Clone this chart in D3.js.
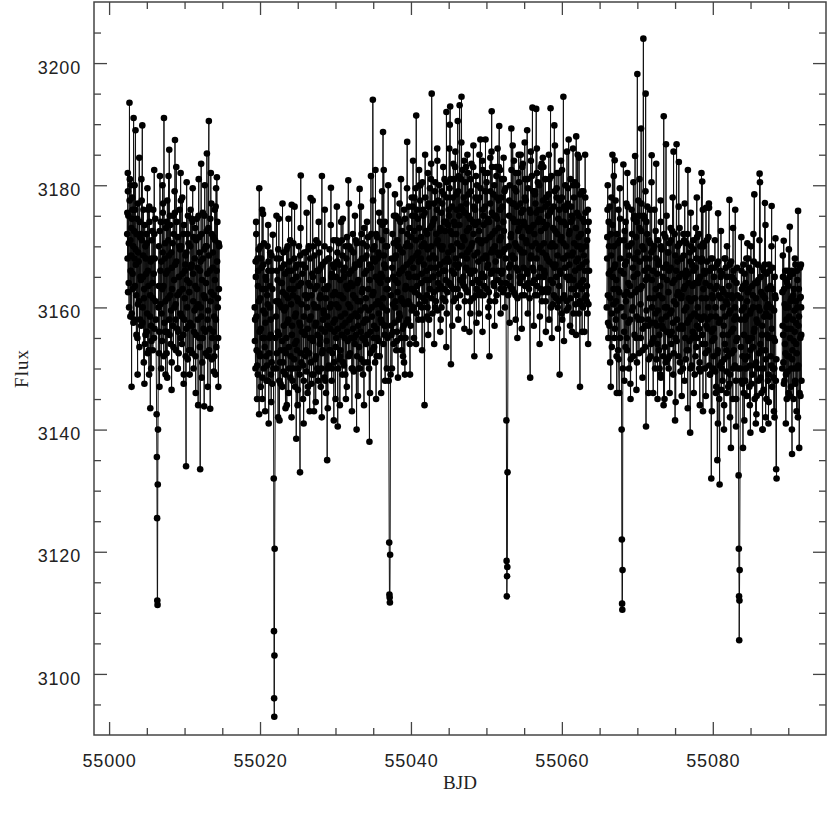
<!DOCTYPE html>
<html>
<head>
<meta charset="utf-8">
<script src="https://cdn.jsdelivr.net/npm/d3@7"></script>
<style>
  html, body { margin: 0; padding: 0; background: #fff; }
  svg { display: block; }
</style>
</head>
<body>
<div id="chart"></div>
<script>
// ---------------- DATA ----------------
const xTickValues = [55000, 55020, 55040, 55060, 55080];
const xTickLabels = ["55000", "55020", "55040", "55060", "55080"];
const yTickValues = [3100, 3120, 3140, 3160, 3180, 3200];
const yTickLabels = ["3100", "3120", "3140", "3160", "3180", "3200"];
const xLabel = "BJD";
const yLabel = "Flux";

// Times below are stored as BJD - 55000 (days); pairs are [time, flux].
const bjdOffset = 55000;

// Visible individual points: spikes, transit dips, band edges
const segment1 = [
  [2.4,3172],[2.5,3179],[2.6,3164],[2.7,3193.5],[2.8,3171],[2.9,3180],
  [3.0,3159],[3.1,3176],[3.25,3191],[3.35,3168],[3.5,3189],[3.6,3162],
  [3.8,3177],[4.0,3184.5],[4.1,3158],[4.2,3172],[4.4,3189.8],[4.5,3165],
  [4.6,3151],[4.8,3170],[5.0,3156],[5.2,3176],[5.3,3149],[5.46,3143.5],
  [5.6,3168],[5.8,3153],[6.0,3172],[6.2,3158],[6.3,3142.5],[6.33,3135.5],
  [6.36,3125.5],[6.39,3112],[6.42,3111.3],[6.45,3131],[6.48,3140],[6.55,3160],
  [6.74,3181.5],[6.9,3150],[7.1,3169],[7.27,3191],[7.4,3156],[7.6,3174],
  [7.7,3148.5],[7.97,3185.8],[8.1,3162],[8.3,3151],[8.5,3175],[8.73,3187.4],
  [8.8,3158],[8.9,3183],[9.1,3150],[9.3,3170],[9.5,3155],[9.7,3178],
  [9.9,3149],[10.1,3167],[10.2,3134],[10.4,3172],[10.6,3153],[10.8,3176],
  [11.0,3157],[11.2,3150],[11.4,3173],[11.6,3160],[11.8,3144],[12.0,3169],
  [12.07,3133.5],[12.2,3183.5],[12.4,3155],[12.6,3143.8],[12.8,3170],[12.96,3185.2],
  [13.1,3152],[13.22,3190.5],[13.4,3143.4],[13.6,3172],[13.8,3156],[14.0,3176],
  [14.1,3149],[14.28,3181.3],[14.4,3160],[14.6,3170]
];
// Dense core of the band (the solid black region)
const segment1Core = [
  [2.45,3168],[2.55,3175],[2.65,3160],[2.75,3181],[2.85,3166],[2.95,3173],[3.05,3178],[3.15,3163],
  [3.2,3170],[3.3,3158],[3.45,3176],[3.55,3167],[3.65,3172],[3.75,3155],[3.85,3169],[3.95,3161],
  [4.05,3174],[4.15,3165],[4.25,3157],[4.35,3171],[4.45,3160],[4.55,3176],[4.65,3163],[4.75,3154],
  [4.85,3168],[4.95,3172],[5.05,3159],[5.15,3166],[5.25,3153],[5.35,3174],[5.45,3162],[5.55,3157],
  [5.65,3171],[5.75,3164],[5.85,3176],[5.95,3155],[6.05,3168],[6.15,3161],[6.6,3170],[6.65,3156],
  [6.8,3166],[6.85,3174],[6.95,3159],[7.05,3163],[7.15,3177],[7.25,3152],[7.35,3168],[7.45,3161],
  [7.55,3173],[7.65,3156],[7.75,3166],[7.85,3171],[7.95,3158],[8.05,3175],[8.15,3154],[8.25,3169],
  [8.35,3163],[8.45,3157],[8.55,3172],[8.65,3160],[8.75,3167],[8.85,3153],[8.95,3174],[9.05,3162],
  [9.15,3156],[9.25,3165],[9.35,3176],[9.45,3159],[9.55,3170],[9.65,3154],[9.75,3163],[9.85,3172],
  [9.95,3158],[10.05,3166],[10.15,3152],[10.25,3169],[10.35,3160],[10.45,3175],[10.55,3157],[10.65,3164],
  [10.75,3170],[10.85,3153],[10.95,3167],[11.05,3174],[11.15,3161],[11.25,3156],[11.35,3168],[11.45,3152],
  [11.55,3171],[11.65,3163],[11.75,3158],[11.85,3175],[11.95,3155],[12.05,3166],[12.15,3160],[12.25,3172],
  [12.35,3151],[12.45,3168],[12.55,3162],[12.65,3175],[12.75,3156],[12.85,3164],[12.95,3170],[13.05,3158],
  [13.15,3173],[13.25,3153],[13.35,3166],[13.45,3161],[13.55,3177],[13.65,3155],[13.75,3169],[13.85,3162],
  [13.95,3152],[14.05,3171],[14.15,3158],[14.25,3166],[14.35,3174],[14.45,3155],[14.55,3163]
];
const segment1Dense = [
  [2.42,3175.5],[2.52,3162.5],[2.62,3170.5],[2.72,3177.5],[2.82,3158.5],[2.92,3168.5],[3.02,3174.5],[3.12,3165.5],
  [3.22,3157.5],[3.32,3172.5],[3.42,3163.5],[3.52,3169.5],[3.62,3155.5],[3.72,3174.5],[3.82,3160.5],[3.92,3167.5],
  [4.02,3153.5],[4.12,3171.5],[4.22,3164.5],[4.32,3177.5],[4.42,3157.5],[4.52,3168.5],[4.62,3161.5],[4.72,3173.5],
  [4.82,3155.5],[4.92,3165.5],[5.02,3170.5],[5.12,3152.5],[5.22,3163.5],[5.32,3176.5],[5.42,3158.5],[5.52,3167.5],
  [5.62,3154.5],[5.72,3172.5],[5.82,3161.5],[5.92,3165.5],[6.02,3156.5],[6.12,3174.5],[6.58,3163.5],[6.62,3152.5],
  [6.72,3172.5],[6.82,3160.5],[6.92,3167.5],[7.02,3154.5],[7.12,3175.5],[7.22,3163.5],[7.32,3157.5],[7.42,3170.5],
  [7.52,3165.5],[7.62,3152.5],[7.72,3177.5],[7.82,3161.5],[7.92,3168.5],[8.02,3155.5],[8.12,3173.5],[8.22,3159.5],
  [8.32,3166.5],[8.42,3170.5],[8.52,3153.5],[8.62,3164.5],[8.72,3175.5],[8.82,3160.5],[8.92,3167.5],[9.02,3156.5],
  [9.12,3171.5],[9.22,3152.5],[9.32,3162.5],[9.42,3169.5],[9.52,3177.5],[9.62,3158.5],[9.72,3165.5],[9.82,3155.5],
  [9.92,3173.5],[10.02,3161.5],[10.12,3168.5],[10.22,3156.5],[10.32,3164.5],[10.42,3151.5],[10.52,3170.5],[10.62,3162.5],
  [10.72,3157.5],[10.82,3166.5],[10.92,3174.5],[11.02,3152.5],[11.12,3165.5],[11.22,3171.5],[11.32,3159.5],[11.42,3163.5],
  [11.52,3155.5],[11.62,3174.5],[11.72,3166.5],[11.82,3160.5],[11.92,3171.5],[12.02,3153.5],[12.12,3167.5],[12.22,3158.5],
  [12.32,3164.5],[12.42,3175.5],[12.52,3156.5],[12.62,3169.5],[12.72,3161.5],[12.82,3152.5],[12.92,3172.5],[13.02,3165.5],
  [13.12,3159.5],[13.22,3168.5],[13.32,3156.5],[13.42,3174.5],[13.52,3162.5],[13.62,3151.5],[13.72,3166.5],[13.82,3171.5],
  [13.92,3158.5],[14.02,3164.5],[14.12,3176.5],[14.22,3153.5],[14.32,3167.5],[14.42,3161.5],[14.52,3170.5]
];
// Ragged fringe just outside the core band
const segment1Fringe = [
  [2.48,3182],[2.98,3147],[3.38,3180],[3.78,3149],[4.28,3181],[4.68,3147.5],[5.08,3179.5],[5.58,3150],
  [5.98,3182.5],[6.68,3147],[7.08,3180],[7.48,3149],[7.88,3181.5],[8.28,3146.5],[8.68,3179],[9.08,3150],
  [9.48,3182],[9.88,3147.5],[10.28,3180.5],[10.68,3149],[11.08,3179.5],[11.48,3146],[11.88,3181],[12.28,3148.5],
  [12.68,3180],[13.08,3147],[13.48,3182],[13.88,3149.5],[14.18,3179.5],[14.48,3147]
];

const segment2 = [
  [19.3,3160],[19.4,3150],[19.5,3172],[19.6,3145],[19.75,3166],[19.9,3179.5],
  [20.0,3152],[20.15,3168],[20.3,3145],[20.4,3175.3],[20.55,3155],[20.7,3163],
  [20.85,3148],[21.0,3170],[21.15,3141],[21.3,3160],[21.45,3149],[21.6,3166],
  [21.7,3171.9],[21.78,3150],[21.82,3132],[21.85,3107],[21.87,3096],[21.89,3093],
  [21.91,3103],[21.94,3120.5],[22.05,3155],[22.2,3168],[22.4,3142],[22.5,3174.5],
  [22.65,3151],[22.8,3164],[22.95,3147],[23.1,3169],[23.25,3153],[23.4,3160],
  [23.55,3144],[23.7,3166],[23.85,3150],[24.0,3171],[24.2,3176.8],[24.3,3148],
  [24.45,3163],[24.6,3154],[24.8,3138.5],[24.95,3167],[25.1,3150],[25.3,3133],
  [25.4,3181.6],[25.55,3156],[25.7,3145],[25.85,3169],[26.0,3152],[26.15,3162],
  [26.3,3146],[26.45,3170],[26.6,3155],[26.7,3177.9],[26.85,3149],[27.0,3165],
  [27.15,3143],[27.3,3160],[27.45,3171],[27.6,3150],[27.75,3166],[27.9,3154],
  [28.05,3147],[28.2,3181.5],[28.35,3158],[28.5,3163],[28.65,3148],[28.9,3135],
  [29.05,3168],[29.2,3153],[29.4,3179.6],[29.55,3150],[29.7,3167],[29.85,3156],
  [30.0,3145],[30.15,3171],[30.3,3140.5],[30.45,3162],[30.6,3152],[30.75,3174],
  [30.9,3149],[31.05,3166],[31.2,3155],[31.35,3170],[31.5,3147],[31.7,3180.8],
  [31.85,3158],[32.0,3164],[32.15,3150],[32.3,3172],[32.45,3155],[32.6,3167],
  [32.8,3140],[32.95,3161],[33.05,3150],[33.2,3179.4],[33.35,3156],[33.5,3168],
  [33.65,3149],[33.8,3173],[33.95,3158],[34.1,3166],[34.25,3151],[34.5,3138],
  [34.7,3181.5],[34.8,3160],[34.95,3194],[35.05,3155],[35.15,3170],[35.3,3182.5],
  [35.45,3152],[35.6,3168],[35.75,3159],[35.9,3174],[36.05,3146],[36.2,3165],
  [36.3,3188.7],[36.4,3182.5],[36.5,3157],[36.65,3170],[36.8,3150],[36.95,3163],
  [37.05,3148],[37.12,3121.5],[37.15,3113],[37.18,3112.5],[37.21,3111.7],[37.24,3119.5],
  [37.3,3149],[37.45,3168],[37.6,3156],[37.75,3175],[37.9,3160],[38.05,3153],
  [38.2,3171],[38.35,3158],[38.5,3177],[38.65,3155],[38.8,3166],[38.95,3152],
  [39.2,3149],[39.35,3170],[39.5,3187.1],[39.65,3161],[39.8,3173],[39.95,3157],
  [40.1,3178],[40.25,3163],[40.4,3155],[40.55,3175],[40.7,3191.4],[40.85,3165],
  [41.0,3158],[41.15,3180],[41.3,3168],[41.45,3160],[41.6,3176],[41.8,3144],
  [41.95,3170],[42.1,3162],[42.25,3182],[42.4,3158],[42.55,3173],[42.75,3195],
  [42.9,3165],[43.05,3177],[43.2,3160],[43.35,3172],[43.5,3184],[43.65,3163],
  [43.8,3170],[43.95,3158],[44.1,3179],[44.25,3166],[44.4,3174],[44.55,3161],
  [44.7,3192],[44.85,3168],[45.0,3176],[45.15,3189.9],[45.2,3192.9],[45.3,3150.7],
  [45.45,3172],[45.6,3163],[45.75,3181],[45.9,3167],[46.05,3176],[46.2,3190.5],
  [46.3,3160],[46.45,3193.1],[46.55,3170],[46.7,3194.5],[46.85,3164],[47.0,3178],
  [47.15,3161],[47.3,3183],[47.45,3169],[47.6,3175],[47.75,3156],[47.9,3181],
  [48.05,3166],[48.2,3174],[48.4,3152],[48.55,3178],[48.7,3163],[48.85,3171],
  [49.0,3159],[49.2,3187.5],[49.35,3165],[49.5,3176],[49.65,3162],[49.8,3182],
  [49.95,3168],[50.1,3174],[50.25,3160],[50.4,3152],[50.55,3179],[50.7,3192.1],
  [50.85,3166],[51.0,3175],[51.15,3161],[51.3,3183],[51.45,3169],[51.6,3173],
  [51.7,3189.7],[51.85,3163],[52.0,3178],[52.15,3166],[52.3,3181],[52.45,3160],
  [52.6,3164],[52.65,3141.5],[52.68,3118.5],[52.71,3112.7],[52.74,3116],[52.77,3117.5],
  [52.8,3133],[52.88,3162],[53.0,3175],[53.15,3167],[53.3,3189.3],[53.45,3163],
  [53.6,3177],[53.75,3168],[53.9,3182],[54.1,3155],[54.25,3174],[54.4,3165],
  [54.55,3185],[54.7,3162],[54.85,3176],[55.0,3169],[55.15,3181],[55.4,3189],
  [55.55,3164],[55.8,3148.5],[55.95,3173],[56.1,3192.7],[56.25,3166],[56.4,3179],
  [56.6,3192.5],[56.75,3162],[56.9,3176],[57.05,3154],[57.2,3183],[57.35,3161],
  [57.5,3174],[57.65,3166],[57.8,3181],[57.95,3163],[58.1,3177],[58.3,3158],
  [58.5,3192.6],[58.65,3170],[58.8,3164],[59.0,3189.8],[59.15,3167],[59.3,3178],
  [59.45,3160],[59.6,3182],[59.7,3149],[59.9,3174],[60.05,3158],[60.2,3194.5],
  [60.35,3168],[60.5,3176],[60.65,3161],[60.9,3187.5],[61.05,3165],[61.2,3174],
  [61.35,3156],[61.5,3180],[61.65,3163],[61.9,3188],[62.05,3170],[62.1,3185],
  [62.25,3159],[62.4,3147],[62.55,3172],[62.7,3163],[62.85,3179],[63.0,3156],
  [63.15,3170],[63.3,3161],[63.45,3176],[63.6,3166]
];
const segment2Core = [
  [19.35,3158],[19.45,3165],[19.55,3153],[19.65,3168],[19.7,3149],[19.85,3161],[19.95,3156],[20.05,3170],
  [20.1,3147],[20.25,3163],[20.35,3155],[20.45,3167],[20.5,3150],[20.65,3159],[20.75,3165],[20.8,3152],
  [20.95,3162],[21.05,3148],[21.1,3166],[21.25,3155],[21.35,3169],[21.4,3158],[21.55,3151],[21.65,3163],
  [22.1,3161],[22.15,3150],[22.25,3166],[22.35,3156],[22.45,3161],[22.55,3148],[22.6,3168],[22.75,3153],
  [22.85,3160],[22.9,3164],[23.05,3151],[23.15,3157],[23.2,3167],[23.35,3149],[23.45,3162],[23.5,3155],
  [23.65,3170],[23.75,3158],[23.8,3146],[23.95,3163],[24.05,3152],[24.15,3166],[24.25,3157],[24.35,3162],
  [24.4,3150],[24.55,3168],[24.65,3147],[24.75,3159],[24.85,3165],[24.9,3153],[25.05,3161],[25.15,3170],
  [25.25,3149],[25.35,3157],[25.45,3164],[25.5,3151],[25.65,3167],[25.75,3156],[25.8,3148],[25.95,3162],
  [26.05,3169],[26.1,3153],[26.25,3160],[26.35,3147],[26.4,3164],[26.55,3158],[26.65,3168],[26.75,3151],
  [26.8,3162],[26.95,3155],[27.05,3170],[27.1,3149],[27.25,3163],[27.35,3157],[27.4,3152],[27.55,3166],
  [27.65,3160],[27.7,3148],[27.85,3169],[27.95,3155],[28.0,3162],[28.15,3150],[28.25,3167],[28.3,3153],
  [28.45,3159],[28.55,3170],[28.6,3156],[28.75,3146],[28.85,3163],[28.95,3157],[29.0,3150],[29.15,3168],
  [29.25,3160],[29.3,3153],[29.45,3165],[29.5,3148],[29.65,3162],[29.75,3171],[29.8,3151],[29.95,3158],
  [30.05,3165],[30.1,3155],[30.25,3169],[30.35,3150],[30.4,3160],[30.55,3167],[30.65,3153],[30.7,3162],
  [30.85,3171],[30.95,3157],[31.0,3151],[31.15,3165],[31.25,3159],[31.3,3149],[31.45,3168],[31.55,3156],
  [31.6,3163],[31.75,3152],[31.8,3170],[31.95,3160],[32.05,3155],[32.1,3166],[32.25,3150],[32.35,3162],
  [32.4,3169],[32.55,3154],[32.65,3159],[32.7,3171],[32.85,3152],[32.9,3164],[33.0,3157],[33.15,3167],
  [33.25,3150],[33.3,3161],[33.45,3172],[33.55,3155],[33.6,3163],[33.75,3151],[33.85,3168],[33.9,3160],
  [34.05,3154],[34.15,3170],[34.2,3158],[34.35,3163],[34.45,3150],[34.55,3167],[34.65,3156],[34.75,3172],
  [34.85,3153],[34.9,3162],[35.0,3168],[35.1,3157],[35.25,3151],[35.35,3165],[35.4,3172],[35.55,3155],
  [35.65,3161],[35.7,3169],[35.85,3152],[35.95,3164],[36.0,3158],[36.15,3171],[36.25,3160],[36.35,3154],
  [36.45,3167],[36.55,3174],[36.6,3157],[36.75,3163],[36.85,3170],[36.9,3155],[37.35,3162],[37.4,3157],
  [37.55,3172],[37.65,3165],[37.7,3154],[37.85,3168],[37.95,3161],[38.0,3175],[38.15,3156],[38.25,3164],
  [38.3,3170],[38.45,3159],[38.55,3166],[38.6,3174],[38.75,3153],[38.85,3161],[38.9,3169],[39.05,3157],
  [39.1,3176],[39.25,3163],[39.3,3155],[39.45,3167],[39.55,3172],[39.6,3158],[39.75,3165],[39.85,3154],
  [39.9,3170],[40.05,3163],[40.15,3175],[40.2,3168],[40.35,3160],[40.45,3178],[40.5,3165],[40.65,3171],
  [40.75,3159],[40.8,3176],[40.95,3169],[41.05,3162],[41.1,3173],[41.25,3180],[41.35,3164],[41.4,3170],
  [41.55,3158],[41.65,3175],[41.7,3167],[41.85,3161],[41.9,3178],[42.05,3166],[42.15,3172],[42.2,3160],
  [42.35,3177],[42.45,3168],[42.5,3163],[42.65,3181],[42.7,3170],[42.85,3159],[42.95,3174],[43.0,3165],
  [43.15,3179],[43.25,3168],[43.3,3161],[43.45,3176],[43.55,3171],[43.6,3164],[43.75,3180],[43.85,3167],
  [43.9,3173],[44.05,3160],[44.15,3177],[44.2,3170],[44.35,3163],[44.45,3181],[44.5,3166],[44.65,3174],
  [44.75,3159],[44.8,3178],[44.95,3169],[45.05,3175],[45.1,3164],[45.25,3181],[45.35,3170],[45.4,3166],
  [45.55,3178],[45.65,3161],[45.7,3174],[45.85,3183],[45.95,3168],[46.0,3172],[46.15,3163],[46.25,3179],
  [46.35,3167],[46.4,3175],[46.5,3162],[46.65,3181],[46.75,3170],[46.8,3176],[46.95,3165],[47.05,3184],
  [47.1,3171],[47.25,3163],[47.35,3177],[47.4,3168],[47.55,3182],[47.65,3166],[47.7,3173],[47.85,3161],
  [47.95,3179],[48.0,3170],[48.15,3164],[48.25,3183],[48.3,3172],[48.45,3166],[48.5,3176],[48.65,3162],
  [48.75,3180],[48.8,3169],[48.95,3174],[49.05,3164],[49.1,3178],[49.25,3171],[49.3,3162],[49.45,3184],
  [49.55,3168],[49.6,3175],[49.75,3165],[49.85,3179],[49.9,3171],[50.05,3163],[50.15,3182],[50.2,3167],
  [50.35,3174],[50.45,3161],[50.5,3177],[50.65,3169],[50.75,3183],[50.8,3172],[50.95,3164],[51.05,3180],
  [51.1,3170],[51.25,3175],[51.35,3162],[51.4,3178],[51.55,3166],[51.65,3183],[51.75,3171],[51.8,3176],
  [51.95,3164],[52.05,3181],[52.1,3169],[52.25,3174],[52.35,3163],[52.4,3179],[52.55,3168],[52.95,3170],
  [53.05,3165],[53.1,3180],[53.25,3172],[53.35,3163],[53.4,3177],[53.55,3168],[53.65,3184],[53.7,3174],
  [53.85,3162],[53.95,3179],[54.0,3170],[54.15,3166],[54.2,3182],[54.35,3173],[54.45,3164],[54.5,3177],
  [54.65,3169],[54.75,3183],[54.8,3165],[54.95,3174],[55.05,3162],[55.1,3178],[55.25,3171],[55.35,3166],
  [55.45,3181],[55.5,3173],[55.65,3163],[55.7,3176],[55.85,3168],[55.9,3184],[56.05,3170],[56.15,3164],
  [56.2,3179],[56.35,3172],[56.45,3162],[56.5,3177],[56.65,3168],[56.7,3182],[56.85,3174],[56.95,3165],
  [57.0,3180],[57.15,3170],[57.25,3163],[57.3,3176],[57.45,3169],[57.55,3183],[57.6,3165],[57.75,3173],
  [57.85,3161],[57.9,3178],[58.05,3168],[58.15,3175],[58.2,3163],[58.35,3181],[58.45,3170],[58.55,3160],
  [58.6,3176],[58.75,3167],[58.85,3173],[58.95,3162],[59.05,3179],[59.1,3170],[59.25,3165],[59.35,3182],
  [59.4,3172],[59.55,3161],[59.65,3176],[59.75,3166],[59.85,3171],[59.95,3159],[60.0,3178],[60.15,3168],
  [60.25,3174],[60.3,3162],[60.45,3180],[60.55,3170],[60.6,3165],[60.75,3177],[60.85,3160],[60.95,3172],
  [61.0,3167],[61.15,3181],[61.25,3163],[61.3,3175],[61.45,3169],[61.55,3159],[61.6,3178],[61.75,3166],
  [61.85,3173],[61.95,3162],[62.0,3180],[62.15,3168],[62.2,3175],[62.35,3161],[62.45,3170],[62.5,3164],
  [62.65,3179],[62.75,3167],[62.8,3160],[62.95,3174],[63.05,3166],[63.1,3178],[63.25,3162],[63.35,3171],
  [63.4,3159],[63.55,3174]
];
const segment2Dense = [
  [19.32,3154.5],[19.42,3167.5],[19.52,3158.5],[19.62,3150.5],[19.72,3163.5],[19.82,3169.5],[19.92,3152.5],[20.02,3161.5],
  [20.12,3156.5],[20.22,3166.5],[20.32,3148.5],[20.42,3159.5],[20.52,3170.5],[20.62,3153.5],[20.72,3157.5],[20.82,3164.5],
  [20.92,3150.5],[21.02,3160.5],[21.12,3167.5],[21.22,3152.5],[21.32,3163.5],[21.42,3155.5],[21.52,3168.5],[21.62,3147.5],
  [22.12,3158.5],[22.22,3152.5],[22.32,3164.5],[22.42,3169.5],[22.52,3155.5],[22.62,3160.5],[22.72,3147.5],[22.82,3166.5],
  [22.92,3154.5],[23.02,3162.5],[23.12,3149.5],[23.22,3159.5],[23.32,3165.5],[23.42,3152.5],[23.52,3169.5],[23.62,3157.5],
  [23.72,3161.5],[23.82,3153.5],[23.92,3167.5],[24.02,3148.5],[24.12,3160.5],[24.22,3155.5],[24.32,3164.5],[24.42,3170.5],
  [24.52,3151.5],[24.62,3158.5],[24.72,3166.5],[24.82,3154.5],[24.92,3161.5],[25.02,3146.5],[25.12,3163.5],[25.22,3157.5],
  [25.32,3168.5],[25.42,3152.5],[25.52,3160.5],[25.62,3165.5],[25.72,3150.5],[25.82,3158.5],[25.92,3155.5],[26.02,3166.5],
  [26.12,3149.5],[26.22,3161.5],[26.32,3156.5],[26.42,3169.5],[26.52,3152.5],[26.62,3163.5],[26.72,3158.5],[26.82,3147.5],
  [26.92,3165.5],[27.02,3154.5],[27.12,3160.5],[27.22,3168.5],[27.32,3151.5],[27.42,3157.5],[27.52,3163.5],[27.62,3155.5],
  [27.72,3170.5],[27.82,3149.5],[27.92,3161.5],[28.02,3166.5],[28.12,3156.5],[28.22,3152.5],[28.32,3164.5],[28.42,3159.5],
  [28.52,3148.5],[28.62,3167.5],[28.72,3161.5],[28.82,3154.5],[28.92,3158.5],[29.02,3163.5],[29.12,3150.5],[29.22,3169.5],
  [29.32,3156.5],[29.42,3160.5],[29.52,3165.5],[29.62,3152.5],[29.72,3157.5],[29.82,3166.5],[29.92,3162.5],
  [30.02,3153.5],[30.12,3160.5],[30.22,3167.5],[30.32,3156.5],[30.42,3170.5],[30.52,3151.5],[30.62,3164.5],[30.72,3158.5],
  [30.82,3155.5],[30.92,3168.5],[31.02,3161.5],[31.12,3150.5],[31.22,3166.5],[31.32,3157.5],[31.42,3163.5],[31.52,3171.5],
  [31.62,3154.5],[31.72,3160.5],[31.82,3165.5],[31.92,3152.5],[32.02,3169.5],[32.12,3158.5],[32.22,3163.5],[32.32,3156.5],
  [32.42,3149.5],[32.52,3166.5],[32.62,3161.5],[32.72,3155.5],[32.82,3170.5],[32.92,3158.5],[33.02,3164.5],[33.12,3153.5],
  [33.22,3167.5],[33.32,3159.5],[33.42,3151.5],[33.52,3162.5],[33.62,3170.5],[33.72,3157.5],[33.82,3165.5],[33.92,3154.5],
  [34.02,3161.5],[34.12,3168.5],[34.22,3155.5],[34.32,3171.5],[34.42,3159.5],[34.52,3164.5],[34.62,3152.5],[34.72,3166.5],
  [34.82,3158.5],[34.92,3169.5],[35.02,3162.5],[35.12,3153.5],[35.22,3167.5],[35.32,3160.5],[35.42,3156.5],[35.52,3171.5],
  [35.62,3164.5],[35.72,3154.5],[35.82,3168.5],[35.92,3160.5],
  [36.02,3165.5],[36.12,3157.5],[36.22,3173.5],[36.32,3161.5],[36.42,3168.5],[36.52,3155.5],[36.62,3166.5],[36.72,3172.5],
  [36.82,3159.5],[36.92,3164.5],[37.42,3155.5],[37.52,3166.5],[37.62,3160.5],[37.72,3170.5],[37.82,3157.5],[37.92,3164.5],
  [38.02,3168.5],[38.12,3154.5],[38.22,3162.5],[38.32,3174.5],[38.42,3165.5],[38.52,3158.5],[38.62,3169.5],[38.72,3161.5],
  [38.82,3172.5],[38.92,3156.5],[39.02,3166.5],[39.12,3160.5],[39.22,3174.5],[39.32,3163.5],[39.42,3157.5],[39.52,3170.5],
  [39.62,3165.5],[39.72,3176.5],[39.82,3160.5],[39.92,3167.5],
  [40.02,3171.5],[40.12,3159.5],[40.22,3176.5],[40.32,3166.5],[40.42,3172.5],[40.52,3162.5],[40.62,3179.5],[40.72,3168.5],
  [40.82,3163.5],[40.92,3174.5],[41.02,3167.5],[41.12,3160.5],[41.22,3177.5],[41.32,3171.5],[41.42,3165.5],[41.52,3180.5],
  [41.62,3161.5],[41.72,3170.5],[41.82,3175.5],[41.92,3164.5],[42.02,3172.5],[42.12,3158.5],[42.22,3169.5],[42.32,3176.5],
  [42.42,3164.5],[42.52,3179.5],[42.62,3166.5],[42.72,3161.5],[42.82,3173.5],[42.92,3168.5],[43.02,3162.5],[43.12,3174.5],
  [43.22,3180.5],[43.32,3166.5],[43.42,3170.5],[43.52,3159.5],[43.62,3177.5],[43.72,3165.5],[43.82,3172.5],[43.92,3163.5],
  [44.02,3175.5],[44.12,3169.5],[44.22,3161.5],[44.32,3178.5],[44.42,3167.5],[44.52,3172.5],[44.62,3164.5],[44.72,3180.5],
  [44.82,3162.5],[44.92,3173.5],
  [45.02,3167.5],[45.12,3179.5],[45.22,3172.5],[45.32,3163.5],[45.42,3176.5],[45.52,3169.5],[45.62,3183.5],[45.72,3165.5],
  [45.82,3173.5],[45.92,3161.5],[46.02,3178.5],[46.12,3170.5],[46.22,3166.5],[46.32,3181.5],[46.42,3173.5],[46.52,3164.5],
  [46.62,3176.5],[46.72,3168.5],[46.82,3182.5],[46.92,3171.5],[47.02,3163.5],[47.12,3175.5],[47.22,3180.5],[47.32,3166.5],
  [47.42,3172.5],[47.52,3162.5],[47.62,3178.5],[47.72,3169.5],[47.82,3174.5],[47.92,3165.5],[48.02,3183.5],[48.12,3170.5],
  [48.22,3161.5],[48.32,3176.5],[48.42,3168.5],[48.52,3173.5],[48.62,3181.5],[48.72,3164.5],[48.82,3177.5],[48.92,3167.5],
  [49.02,3172.5],[49.12,3162.5],[49.22,3179.5],[49.32,3170.5],[49.42,3165.5],[49.52,3182.5],[49.62,3173.5],[49.72,3163.5],
  [49.82,3176.5],[49.92,3168.5],[50.02,3180.5],[50.12,3166.5],[50.22,3174.5],[50.32,3162.5],[50.42,3171.5],[50.52,3184.5],
  [50.62,3165.5],[50.72,3175.5],[50.82,3169.5],[50.92,3178.5],[51.02,3163.5],[51.12,3172.5],[51.22,3167.5],[51.32,3181.5],
  [51.42,3174.5],[51.52,3164.5],[51.62,3177.5],[51.72,3168.5],[51.82,3182.5],[51.92,3171.5],[52.02,3165.5],[52.12,3176.5],
  [52.22,3162.5],[52.32,3172.5],[52.42,3169.5],[52.52,3179.5],[52.98,3166.5],[53.02,3177.5],[53.12,3163.5],[53.22,3171.5],
  [53.32,3182.5],[53.42,3168.5],[53.52,3174.5],[53.62,3162.5],[53.72,3179.5],[53.82,3170.5],[53.92,3166.5],[54.02,3176.5],
  [54.12,3161.5],[54.22,3172.5],[54.32,3180.5],[54.42,3169.5],[54.52,3164.5],[54.62,3175.5],[54.72,3171.5],[54.82,3183.5],
  [54.92,3166.5],[55.02,3173.5],[55.12,3163.5],[55.22,3177.5],[55.32,3170.5],[55.42,3165.5],[55.52,3179.5],[55.62,3172.5],
  [55.72,3161.5],[55.82,3175.5],[55.92,3168.5],[56.02,3181.5],[56.12,3166.5],[56.22,3173.5],[56.32,3164.5],[56.42,3178.5],
  [56.52,3170.5],[56.62,3175.5],[56.72,3163.5],[56.82,3180.5],[56.92,3169.5],[57.02,3174.5],[57.12,3166.5],[57.22,3172.5],
  [57.32,3183.5],[57.42,3162.5],[57.52,3177.5],[57.62,3170.5],[57.72,3165.5],[57.82,3176.5],[57.92,3168.5],
  [58.02,3173.5],[58.12,3162.5],[58.22,3178.5],[58.32,3167.5],[58.42,3175.5],[58.52,3164.5],[58.62,3181.5],[58.72,3170.5],
  [58.82,3160.5],[58.92,3176.5],[59.02,3166.5],[59.12,3172.5],[59.22,3161.5],[59.32,3179.5],[59.42,3168.5],[59.52,3174.5],
  [59.62,3163.5],[59.72,3177.5],[59.82,3165.5],[59.92,3171.5],[60.02,3182.5],[60.12,3161.5],[60.22,3170.5],[60.32,3176.5],
  [60.42,3166.5],[60.52,3173.5],[60.62,3159.5],[60.72,3168.5],[60.82,3179.5],[60.92,3164.5],[61.02,3172.5],[61.12,3161.5],
  [61.22,3176.5],[61.32,3168.5],[61.42,3174.5],[61.52,3164.5],[61.62,3170.5],[61.72,3180.5],[61.82,3160.5],[61.92,3167.5],
  [62.02,3175.5],[62.12,3163.5],[62.22,3171.5],[62.32,3166.5],[62.42,3178.5],[62.52,3160.5],[62.62,3169.5],[62.72,3174.5],
  [62.82,3164.5],[62.92,3168.5],[63.02,3161.5],[63.12,3175.5],[63.22,3167.5],[63.32,3163.5],[63.42,3172.5],[63.52,3160.5]
];
const segment2Fringe = [
  [19.48,3174],[19.88,3142.5],[20.28,3176],[20.68,3143],[21.08,3173.5],[21.48,3144.5],[22.18,3175],[22.58,3141.5],
  [22.98,3177],[23.38,3143.5],[23.78,3174.5],[24.18,3142],[24.58,3176.5],[24.98,3144],[25.38,3173],[25.78,3141],
  [26.18,3175.5],[26.58,3143],[26.98,3177.5],[27.38,3144.5],[27.78,3174],[28.18,3142],[28.58,3176],[28.98,3143.5],
  [29.38,3173.5],[29.78,3141.5],[30.18,3176.5],[30.58,3144],[30.98,3174.5],[31.38,3145],[31.78,3177],[32.18,3143],
  [32.58,3175],[32.98,3145.5],[33.38,3176.5],[33.78,3144],[34.18,3174],[34.58,3146],[34.98,3177.5],[35.38,3145],
  [35.78,3175.5],[36.18,3179],[36.58,3148],[36.98,3180],[37.48,3150],[37.88,3178.5],[38.28,3148.5],[38.68,3181],
  [39.08,3151],[39.48,3179.5],[39.88,3149],[40.28,3184],[40.68,3154],[41.08,3182.5],[41.48,3153],[41.88,3185],
  [42.28,3155.5],[42.68,3183.5],[43.08,3154],[43.48,3186],[43.88,3156],[44.28,3183],[44.68,3153.5],[45.08,3186],
  [45.48,3157],[45.88,3185.5],[46.28,3158],[46.68,3187],[47.08,3156.5],[47.48,3185],[47.88,3159],[48.28,3186.5],
  [48.68,3157.5],[49.08,3185],[49.48,3156],[49.88,3187.5],[50.28,3158.5],[50.68,3185.5],[51.08,3157],[51.48,3186],
  [51.88,3159],[52.28,3184.5],[53.08,3157.5],[53.48,3186.5],[53.88,3158],[54.28,3185],[54.68,3156.5],[55.08,3187],
  [55.48,3159],[55.88,3185.5],[56.28,3157],[56.68,3186],[57.08,3158.5],[57.48,3184.5],[57.88,3156],[58.28,3185],
  [58.68,3155],[59.08,3186.5],[59.48,3156.5],[59.88,3184],[60.28,3154.5],[60.68,3185.5],[61.08,3157],[61.48,3186],
  [61.88,3155.5],[62.28,3184.5],[62.68,3156],[63.08,3185],[63.48,3154]
];

const segment3 = [
  [65.95,3160],[66.05,3176],[66.15,3155],[66.25,3170],[66.4,3151],[66.55,3178],
  [66.7,3185],[66.85,3163],[67.0,3184.1],[67.15,3158],[67.3,3172],[67.45,3153],
  [67.6,3146],[67.75,3168],[67.85,3160],[67.92,3140],[67.95,3122],[67.98,3111.5],
  [68.01,3110.5],[68.04,3117],[68.08,3150],[68.15,3183.4],[68.3,3162],[68.45,3174],
  [68.6,3155],[68.75,3170],[68.9,3150],[69.1,3145],[69.25,3176],[69.4,3160],
  [69.55,3168],[69.7,3184.8],[69.85,3155],[70.0,3198.2],[70.1,3163],[70.25,3175],
  [70.5,3189.3],[70.6,3158],[70.8,3204],[70.95,3166],[71.1,3195],[71.15,3140.5],
  [71.3,3172],[71.45,3158],[71.6,3168],[71.75,3152],[71.9,3184.9],[72.1,3146],
  [72.25,3170],[72.4,3159],[72.5,3183.5],[72.65,3154],[72.8,3167],[72.95,3150],
  [73.1,3174],[73.25,3157],[73.5,3191.3],[73.6,3145],[73.8,3186.7],[73.95,3160],
  [74.1,3169],[74.25,3152],[74.4,3173],[74.55,3156],[74.8,3185.5],[75.0,3141.5],
  [75.2,3186.7],[75.3,3162],[75.5,3183.8],[75.65,3151],[75.8,3168],[75.95,3157],
  [76.1,3172],[76.25,3148],[76.4,3165],[76.55,3153],[76.7,3182.5],[76.85,3158],
  [77.0,3139.5],[77.15,3170],[77.3,3155],[77.45,3166],[77.6,3149],[77.75,3173],
  [77.9,3157],[78.05,3164],[78.2,3150],[78.35,3170],[78.5,3182],[78.6,3180.6],
  [78.7,3143],[78.85,3166],[79.0,3154],[79.1,3176.3],[79.3,3158],[79.5,3176.3],
  [79.65,3149],[79.8,3132],[79.95,3168],[80.1,3152],[80.25,3163],[80.4,3146],
  [80.6,3135],[80.7,3175.4],[80.9,3131],[81.05,3165],[81.2,3150],[81.35,3160],
  [81.5,3144],[81.65,3168],[81.8,3153],[81.95,3162],[82.05,3147],[82.2,3177.6],
  [82.4,3137],[82.55,3165],[82.7,3150],[82.85,3158],[82.97,3176],[83.1,3145],
  [83.3,3162],[83.42,3132.5],[83.45,3120.5],[83.48,3112.7],[83.5,3105.5],[83.53,3112],
  [83.56,3117],[83.65,3150],[83.8,3166],[84.0,3137],[84.15,3160],[84.3,3148],
  [84.45,3168],[84.6,3152],[84.75,3163],[84.9,3144],[85.05,3170],[85.2,3155],
  [85.35,3160],[85.5,3178.5],[85.7,3141],[85.85,3164],[86.0,3150],[86.2,3181.9],
  [86.25,3180.5],[86.4,3153],[86.6,3140],[86.75,3166],[86.9,3177.1],[87.0,3142],
  [87.15,3160],[87.3,3148],[87.45,3167],[87.6,3155],[87.8,3176.6],[87.95,3150],
  [88.1,3143],[88.25,3162],[88.3,3171.3],[88.4,3133.5],[88.45,3132]
];
const segment3Core = [
  [66.0,3168],[66.1,3162],[66.2,3174],[66.3,3157],[66.45,3166],[66.5,3172],[66.6,3159],[66.75,3165],
  [66.9,3170],[66.95,3155],[67.05,3167],[67.2,3161],[67.25,3152],[67.4,3163],[67.5,3176],[67.65,3171],
  [67.7,3155],[67.8,3166],[68.2,3171],[68.25,3156],[68.35,3167],[68.5,3161],[68.55,3177],[68.65,3153],
  [68.8,3164],[68.95,3170],[69.05,3158],[69.15,3162],[69.3,3172],[69.45,3152],[69.5,3165],[69.6,3175],
  [69.75,3168],[69.9,3174],[69.95,3151],[70.05,3169],[70.15,3158],[70.3,3173],[70.4,3163],[70.45,3155],
  [70.55,3177],[70.65,3170],[70.7,3153],[70.85,3175],[71.0,3168],[71.05,3157],[71.2,3174],[71.35,3165],
  [71.5,3157],[71.55,3171],[71.7,3176],[71.8,3154],[71.85,3169],[71.95,3160],[72.05,3166],[72.15,3155],
  [72.2,3170],[72.35,3150],[72.45,3163],[72.55,3168],[72.6,3157],[72.75,3171],[72.85,3153],[72.9,3162],
  [73.05,3149],[73.15,3170],[73.2,3158],[73.35,3165],[73.45,3152],[73.55,3172],[73.65,3160],[73.75,3151],
  [73.85,3167],[73.9,3156],[74.05,3169],[74.15,3150],[74.2,3166],[74.35,3159],[74.45,3171],[74.5,3154],
  [74.65,3164],[74.75,3149],[74.85,3161],[74.95,3172],[75.05,3155],[75.15,3166],[75.25,3158],[75.35,3170],
  [75.45,3152],[75.55,3165],[75.6,3173],[75.75,3157],[75.85,3162],[75.9,3168],[76.05,3150],[76.15,3163],
  [76.2,3171],[76.35,3155],[76.45,3166],[76.5,3160],[76.65,3172],[76.75,3153],[76.8,3164],[76.95,3169],
  [77.05,3150],[77.1,3161],[77.25,3167],[77.35,3156],[77.4,3171],[77.55,3159],[77.65,3164],[77.7,3152],
  [77.85,3168],[77.95,3155],[78.0,3160],[78.15,3172],[78.25,3151],[78.3,3165],[78.45,3158],[78.55,3168],
  [78.65,3154],[78.75,3163],[78.8,3170],[78.95,3150],[79.05,3164],[79.15,3157],[79.2,3171],[79.35,3153],
  [79.4,3160],[79.55,3166],[79.6,3149],[79.75,3168],[79.85,3156],[79.9,3162],[80.05,3150],[80.15,3165],
  [80.2,3155],[80.35,3160],[80.45,3147],[80.55,3167],[80.65,3153],[80.75,3162],[80.85,3145],[80.95,3158],
  [81.0,3166],[81.15,3151],[81.25,3163],[81.3,3148],[81.45,3157],[81.55,3168],[81.6,3154],[81.75,3161],
  [81.85,3146],[81.9,3165],[82.0,3152],[82.15,3159],[82.25,3167],[82.3,3149],[82.45,3156],[82.5,3162],
  [82.65,3145],[82.75,3166],[82.8,3153],[82.95,3160],[83.05,3148],[83.15,3164],[83.25,3155],[83.35,3150],
  [83.7,3158],[83.75,3148],[83.85,3163],[83.95,3152],[84.05,3167],[84.1,3146],[84.25,3158],[84.35,3164],
  [84.4,3150],[84.55,3161],[84.65,3155],[84.7,3168],[84.85,3147],[84.95,3159],[85.0,3153],[85.15,3166],
  [85.25,3149],[85.3,3162],[85.45,3156],[85.55,3145],[85.6,3164],[85.75,3151],[85.8,3158],[85.95,3167],
  [86.05,3148],[86.1,3160],[86.3,3154],[86.35,3165],[86.45,3146],[86.55,3157],[86.65,3162],[86.7,3150],
  [86.85,3167],[86.95,3153],[87.05,3159],[87.1,3145],[87.25,3163],[87.35,3155],[87.4,3149],[87.55,3166],
  [87.65,3152],[87.7,3160],[87.85,3147],[87.9,3163],[88.05,3155],[88.15,3150],[88.2,3165],[88.35,3148]
];
const segment3Dense = [
  [66.02,3171.5],[66.12,3157.5],[66.22,3165.5],[66.32,3176.5],[66.42,3161.5],[66.52,3168.5],[66.62,3153.5],[66.72,3173.5],
  [66.82,3160.5],[66.92,3166.5],[67.02,3156.5],[67.12,3177.5],[67.22,3164.5],[67.32,3159.5],[67.42,3170.5],[67.52,3151.5],
  [67.62,3162.5],[67.72,3174.5],[68.18,3165.5],[68.22,3158.5],[68.32,3172.5],[68.42,3153.5],[68.52,3167.5],[68.62,3162.5],
  [68.72,3176.5],[68.82,3157.5],[68.92,3168.5],[69.02,3163.5],[69.12,3151.5],[69.22,3170.5],[69.32,3159.5],[69.42,3166.5],
  [69.52,3174.5],[69.62,3155.5],[69.72,3162.5],[69.82,3171.5],[69.92,3158.5],[70.02,3165.5],[70.12,3177.5],[70.22,3152.5],
  [70.32,3167.5],[70.42,3160.5],[70.52,3172.5],[70.62,3163.5],[70.72,3156.5],[70.82,3169.5],[70.92,3174.5],[71.02,3153.5],
  [71.12,3164.5],[71.22,3159.5],[71.32,3176.5],[71.42,3166.5],[71.52,3151.5],[71.62,3161.5],[71.72,3170.5],[71.82,3157.5],
  [71.92,3164.5],
  [72.02,3154.5],[72.12,3169.5],[72.22,3161.5],[72.32,3157.5],[72.42,3172.5],[72.52,3151.5],[72.62,3165.5],[72.72,3159.5],
  [72.82,3167.5],[72.92,3155.5],[73.02,3163.5],[73.12,3148.5],[73.22,3169.5],[73.32,3161.5],[73.42,3156.5],[73.52,3166.5],
  [73.62,3153.5],[73.72,3171.5],[73.82,3158.5],[73.92,3164.5],[74.02,3151.5],[74.12,3162.5],[74.22,3170.5],[74.32,3155.5],
  [74.42,3166.5],[74.52,3159.5],[74.62,3172.5],[74.72,3157.5],[74.82,3152.5],[74.92,3164.5],[75.02,3168.5],[75.12,3160.5],
  [75.22,3154.5],[75.32,3167.5],[75.42,3162.5],[75.52,3156.5],[75.62,3170.5],[75.72,3149.5],[75.82,3161.5],[75.92,3165.5],
  [76.02,3156.5],[76.12,3168.5],[76.22,3159.5],[76.32,3163.5],[76.42,3151.5],[76.52,3170.5],[76.62,3157.5],[76.72,3165.5],
  [76.82,3161.5],[76.92,3154.5],[77.02,3167.5],[77.12,3158.5],[77.22,3150.5],[77.32,3163.5],[77.42,3169.5],[77.52,3155.5],
  [77.62,3161.5],[77.72,3166.5],[77.82,3153.5],[77.92,3171.5],[78.02,3158.5],[78.12,3164.5],[78.22,3156.5],[78.32,3149.5],
  [78.42,3167.5],[78.52,3161.5],[78.62,3155.5],[78.72,3170.5],[78.82,3158.5],[78.92,3165.5],[79.02,3152.5],[79.12,3161.5],
  [79.22,3167.5],[79.32,3156.5],[79.42,3171.5],[79.52,3150.5],[79.62,3163.5],[79.72,3158.5],[79.82,3166.5],[79.92,3154.5],
  [80.02,3161.5],[80.12,3156.5],[80.22,3166.5],[80.32,3149.5],[80.42,3158.5],[80.52,3163.5],[80.62,3152.5],[80.72,3167.5],
  [80.82,3157.5],[80.92,3150.5],[81.02,3161.5],[81.12,3146.5],[81.22,3165.5],[81.32,3155.5],[81.42,3162.5],[81.52,3151.5],
  [81.62,3158.5],[81.72,3166.5],[81.82,3149.5],[81.92,3160.5],[82.02,3155.5],[82.12,3163.5],[82.22,3147.5],[82.32,3159.5],
  [82.42,3167.5],[82.52,3152.5],[82.62,3161.5],[82.72,3156.5],[82.82,3164.5],[82.92,3150.5],[83.02,3158.5],[83.12,3154.5],
  [83.22,3166.5],[83.68,3161.5],[83.72,3153.5],[83.82,3159.5],[83.92,3147.5],[84.02,3163.5],[84.12,3155.5],[84.22,3165.5],
  [84.32,3151.5],[84.42,3158.5],[84.52,3145.5],[84.62,3162.5],[84.72,3154.5],[84.82,3166.5],[84.92,3150.5],[85.02,3159.5],
  [85.12,3147.5],[85.22,3163.5],[85.32,3153.5],[85.42,3167.5],[85.52,3156.5],[85.62,3150.5],[85.72,3161.5],[85.82,3145.5],
  [85.92,3157.5],[86.02,3164.5],[86.12,3152.5],[86.22,3159.5],[86.32,3148.5],[86.42,3162.5],[86.52,3155.5],[86.62,3166.5],
  [86.72,3146.5],[86.82,3158.5],[86.92,3161.5],[87.02,3151.5],[87.12,3165.5],[87.22,3155.5],[87.32,3160.5],[87.42,3144.5],
  [87.52,3158.5],[87.62,3163.5],[87.72,3150.5],[87.82,3156.5],[87.92,3166.5],[88.02,3148.5],[88.12,3159.5],[88.22,3154.5],
  [88.32,3161.5],[88.42,3151.5]
];
const segment3Fringe = [
  [66.08,3180],[66.48,3147],[66.88,3181.5],[67.28,3146],[67.68,3179.5],[68.28,3148],[68.68,3182],[69.08,3147.5],
  [69.48,3180.5],[69.88,3146.5],[70.28,3181],[70.68,3148.5],[71.08,3179],[71.48,3146],[71.88,3180.5],[72.28,3176],
  [72.68,3145],[73.08,3177.5],[73.48,3144],[73.88,3175],[74.28,3146],[74.68,3178],[75.08,3144.5],[75.48,3176.5],
  [75.88,3145.5],[76.28,3177],[76.68,3143.5],[77.08,3175.5],[77.48,3146],[77.88,3178],[78.28,3144],[78.68,3176],
  [79.08,3145.5],[79.48,3177],[79.88,3143],[80.28,3171],[80.68,3141],[81.08,3172.5],[81.48,3140],[81.88,3170],
  [82.28,3142],[82.68,3173],[83.08,3140.5],[83.78,3171.5],[84.18,3141.5],[84.58,3170.5],[84.98,3139.5],[85.38,3172],
  [85.78,3142.5],[86.18,3171],[86.58,3140],[86.98,3173.5],[87.38,3141],[87.78,3170],[88.18,3142]
];

const segment4 = [
  [89.2,3150],[89.3,3165],[89.4,3170.9],[89.5,3148],[89.65,3160],[89.8,3145],
  [89.95,3166],[90.1,3152],[90.2,3173.2],[90.35,3147],[90.5,3136],[90.65,3162],
  [90.8,3150],[90.95,3167],[91.1,3143],[91.2,3160],[91.3,3175.8],[91.45,3137],
  [91.55,3166.5],[91.65,3161.7],[91.75,3148]
];
const segment4Core = [
  [89.25,3157],[89.35,3151],[89.45,3163],[89.55,3154],[89.6,3166],[89.7,3149],[89.75,3158],[89.85,3164],
  [89.9,3152],[90.0,3160],[90.05,3146],[90.15,3165],[90.25,3155],[90.3,3161],[90.4,3150],[90.45,3166],
  [90.55,3153],[90.6,3158],[90.7,3145],[90.75,3163],[90.85,3156],[90.9,3148],[91.0,3161],[91.05,3154],
  [91.15,3166],[91.25,3150],[91.35,3157],[91.4,3163],[91.5,3146],[91.6,3155],[91.7,3160]
];
const segment4Dense = [
  [89.22,3162.5],[89.32,3155.5],[89.42,3147.5],[89.52,3160.5],[89.62,3152.5],[89.72,3164.5],[89.82,3156.5],[89.92,3149.5],
  [90.02,3163.5],[90.12,3158.5],[90.22,3145.5],[90.32,3156.5],[90.42,3161.5],[90.52,3151.5],[90.62,3165.5],[90.72,3154.5],
  [90.82,3159.5],[90.92,3147.5],[91.02,3157.5],[91.12,3152.5],[91.22,3164.5],[91.32,3150.5],[91.42,3158.5],[91.52,3161.5],
  [91.62,3145.5],[91.72,3155.5]
];
const segment4Fringe = [
  [89.28,3168.5],[89.68,3141],[90.08,3169.5],[90.48,3140],[90.88,3168],[91.28,3142],[91.68,3167]
];

// each continuous stretch = its visible points + core + fringe, in time order
const segments = [
  [segment1, segment1Core, segment1Dense, segment1Fringe],
  [segment2, segment2Core, segment2Dense, segment2Fringe],
  [segment3, segment3Core, segment3Dense, segment3Fringe],
  [segment4, segment4Core, segment4Dense, segment4Fringe]
].map(parts => d3.sort([].concat(...parts), d => d[0]));

// ---------------- CHART ----------------
const W = 830, H = 829;
const plot = { left: 94, right: 826, top: 2, bottom: 735 };

const svg = d3.select("#chart").append("svg")
  .attr("width", W).attr("height", H)
  .style("background", "#fff");

const x = d3.scaleLinear().domain([54998, 55095]).range([plot.left, plot.right]);
const y = d3.scaleLinear().domain([3090, 3210]).range([plot.bottom, plot.top]);
const xOf = d => x(bjdOffset + d[0]);
const yOf = d => y(d[1]);

// data marks
const lineGen = d3.line().x(xOf).y(yOf);
const marks = svg.append("g");
marks.selectAll("path.seg").data(segments).join("path")
  .attr("class", "seg")
  .attr("d", lineGen)
  .attr("fill", "none")
  .attr("stroke", "#111")
  .attr("stroke-width", 1);
marks.selectAll("g.pts").data(segments).join("g")
  .attr("class", "pts")
  .selectAll("circle").data(d => d).join("circle")
  .attr("cx", xOf)
  .attr("cy", yOf)
  .attr("r", 3.3)
  .attr("fill", "#000");

// axes (ticks point inward on all four sides)
const axisColor = "#444";
const xMinor = d3.range(55000, 55095, 5).filter(v => !xTickValues.includes(v));
const yMinor = d3.range(3095, 3210, 5).filter(v => !yTickValues.includes(v));
const majorLen = 13, minorLen = 7;

function styleAxis(g) {
  g.select(".domain").remove();
  g.selectAll(".tick line").attr("stroke", axisColor).attr("stroke-width", 1.3);
}

// bottom
svg.append("g").attr("transform", `translate(0,${plot.bottom})`)
  .call(d3.axisBottom(x).tickValues(xTickValues).tickSize(-majorLen).tickPadding(0)
    .tickFormat((d, i) => xTickLabels[i]))
  .call(styleAxis)
  .call(g => g.selectAll(".tick text")
    .attr("y", 32).attr("dy", null)
    .attr("fill", "#222")
    .style("font-family", "'Liberation Sans', Arial, Helvetica, sans-serif")
    .style("font-size", "18px")
    .style("letter-spacing", "0.8px"));
svg.append("g").attr("transform", `translate(0,${plot.bottom})`)
  .call(d3.axisBottom(x).tickValues(xMinor).tickSize(-minorLen).tickFormat(""))
  .call(styleAxis);

// top
svg.append("g").attr("transform", `translate(0,${plot.top})`)
  .call(d3.axisTop(x).tickValues(xTickValues).tickSize(-majorLen).tickFormat(""))
  .call(styleAxis);
svg.append("g").attr("transform", `translate(0,${plot.top})`)
  .call(d3.axisTop(x).tickValues(xMinor).tickSize(-minorLen).tickFormat(""))
  .call(styleAxis);

// left
svg.append("g").attr("transform", `translate(${plot.left},0)`)
  .call(d3.axisLeft(y).tickValues(yTickValues).tickSize(-majorLen).tickPadding(0)
    .tickFormat((d, i) => yTickLabels[i]))
  .call(styleAxis)
  .call(g => g.selectAll(".tick text")
    .attr("x", -13).attr("dy", "0.62em").attr("y", -1)
    .attr("fill", "#222")
    .style("font-family", "'Liberation Sans', Arial, Helvetica, sans-serif")
    .style("font-size", "18px")
    .style("letter-spacing", "0.8px"));
svg.append("g").attr("transform", `translate(${plot.left},0)`)
  .call(d3.axisLeft(y).tickValues(yMinor).tickSize(-minorLen).tickFormat(""))
  .call(styleAxis);

// right
svg.append("g").attr("transform", `translate(${plot.right},0)`)
  .call(d3.axisRight(y).tickValues(yTickValues).tickSize(-majorLen).tickFormat(""))
  .call(styleAxis);
svg.append("g").attr("transform", `translate(${plot.right},0)`)
  .call(d3.axisRight(y).tickValues(yMinor).tickSize(-minorLen).tickFormat(""))
  .call(styleAxis);

// frame
svg.append("rect")
  .attr("x", plot.left).attr("y", plot.top)
  .attr("width", plot.right - plot.left).attr("height", plot.bottom - plot.top)
  .attr("fill", "none").attr("stroke", axisColor).attr("stroke-width", 1.5);

// axis titles
svg.append("text")
  .attr("x", (plot.left + plot.right) / 2).attr("y", 789)
  .attr("text-anchor", "middle")
  .attr("fill", "#222")
  .style("font-family", "'Liberation Serif', 'Times New Roman', serif")
  .style("font-size", "19px")
  .text(xLabel);
svg.append("text")
  .attr("transform", `translate(28,${(plot.top + plot.bottom) / 2}) rotate(-90)`)
  .attr("text-anchor", "middle")
  .attr("fill", "#222")
  .style("font-family", "'Liberation Serif', 'Times New Roman', serif")
  .style("font-size", "19px")
  .style("letter-spacing", "1px")
  .text(yLabel);
</script>
</body>
</html>
